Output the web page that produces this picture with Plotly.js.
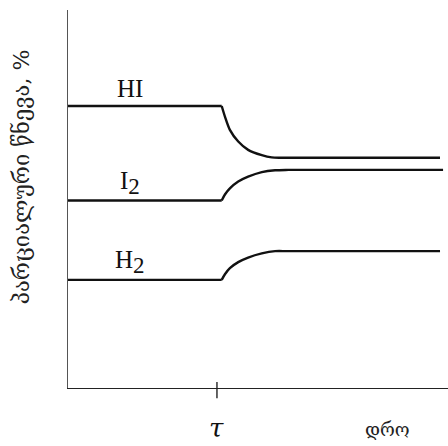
<!DOCTYPE html>
<html>
<head>
<meta charset="utf-8">
<script src="https://cdn.plot.ly/plotly-3.0.1.min.js"></script>
<style>
  html, body { margin: 0; padding: 0; background: #fff; }
  #chart { width: 448px; height: 446px; }
</style>
</head>
<body>
<div id="chart"></div>
<script>
// Time axis (arbitrary units) and the moment the equilibrium is disturbed
const tau = 39.2;

// Partial pressure of HI (%), vs time
const hiTime = [0, 40.45, 41.3, 42.6, 44.8, 47.4, 51.0, 53.6, 56.2, 97.9];
const hiPressure = [74.6, 74.6, 71.8, 68.3, 65.2, 63.0, 61.6, 61.0, 60.9, 60.9];

// Partial pressure of I2 (%), vs time
const i2Time = [0, 40.45, 41.3, 42.6, 44.8, 47.4, 51.0, 54.5, 58.0, 98.7];
const i2Pressure = [49.6, 49.6, 51.2, 52.8, 54.6, 55.9, 57.1, 57.6, 57.7, 57.7];

// Partial pressure of H2 (%), vs time
const h2Time = [0, 40.45, 41.3, 42.6, 44.8, 47.4, 51.0, 54.5, 58.0, 97.9];
const h2Pressure = [28.6, 28.6, 30.1, 31.7, 33.3, 34.5, 35.6, 36.2, 36.2, 36.2];

// Curve labels
const labels = ['HI', 'I<sub><span style="font-size:23px">2</span></sub>', 'H<sub><span style="font-size:23px">2</span></sub>'];
const labelX = [16.3, 16.3, 16.3];
const labelY = [79.3, 54.3, 33.3];

const yTitle = 'პარციალური წნევა, %';
const xTitle = 'დრო';
const tauText = 'τ';

const lineColor = '#111';
const lineWidth = 2.4;

// Each curve: a flat stretch up to the disturbance, then a smooth approach to the new level
const series = [[hiTime, hiPressure], [i2Time, i2Pressure], [h2Time, h2Pressure]];
const traces = [];
series.forEach(([t, p]) => {
  traces.push({
    x: t.slice(0, 2), y: p.slice(0, 2), mode: 'lines',
    line: { color: lineColor, width: lineWidth, shape: 'linear' },
    hoverinfo: 'skip', cliponaxis: false
  });
  traces.push({
    x: t.slice(1), y: p.slice(1), mode: 'lines',
    line: { color: lineColor, width: lineWidth, shape: 'spline', smoothing: 0.8 },
    hoverinfo: 'skip', cliponaxis: false
  });
});

const serif = 'Liberation Serif, DejaVu Serif, serif';

const annotations = labels.map((t, i) => ({
  x: labelX[i], y: labelY[i], xref: 'x', yref: 'y',
  text: t, showarrow: false,
  font: { family: serif, size: 25, color: '#111' }
}));

annotations.push({
  x: tau, y: 0, xref: 'x', yref: 'y', yshift: -40,
  text: tauText, showarrow: false,
  font: { family: 'DejaVu Serif, serif', size: 26, color: '#111', style: 'italic' }
});
annotations.push({
  x: 1, y: 0, xref: 'paper', yref: 'paper', xanchor: 'center', yanchor: 'middle',
  xshift: -61, yshift: -41,
  text: xTitle, showarrow: false,
  font: { family: 'DejaVu Serif, serif', size: 18, color: '#222' }
});
annotations.push({
  x: 0, y: 0.558, xref: 'paper', yref: 'paper', xanchor: 'center', yanchor: 'middle',
  xshift: -46.5, textangle: -90,
  text: yTitle, showarrow: false,
  font: { family: 'DejaVu Serif, serif', size: 22, color: '#222' }
});

const layout = {
  width: 448, height: 446,
  margin: { l: 68, r: 0, t: 10, b: 58 },
  paper_bgcolor: '#fff', plot_bgcolor: '#fff',
  showlegend: false,
  xaxis: {
    range: [0, 100], showline: true, linecolor: '#222', linewidth: 1.4,
    showgrid: false, zeroline: false, showticklabels: false, ticks: ''
  },
  yaxis: {
    range: [0, 100], showline: true, linecolor: '#555', linewidth: 1.4,
    showgrid: false, zeroline: false, showticklabels: false, ticks: ''
  },
  shapes: [{
    type: 'line', xref: 'x', yref: 'paper', x0: tau, x1: tau, y0: -0.027, y1: 0.016,
    line: { color: '#222', width: 1.4 }
  }],
  annotations: annotations
};

Plotly.newPlot('chart', traces, layout, { staticPlot: true, displayModeBar: false });
</script>
</body>
</html>
